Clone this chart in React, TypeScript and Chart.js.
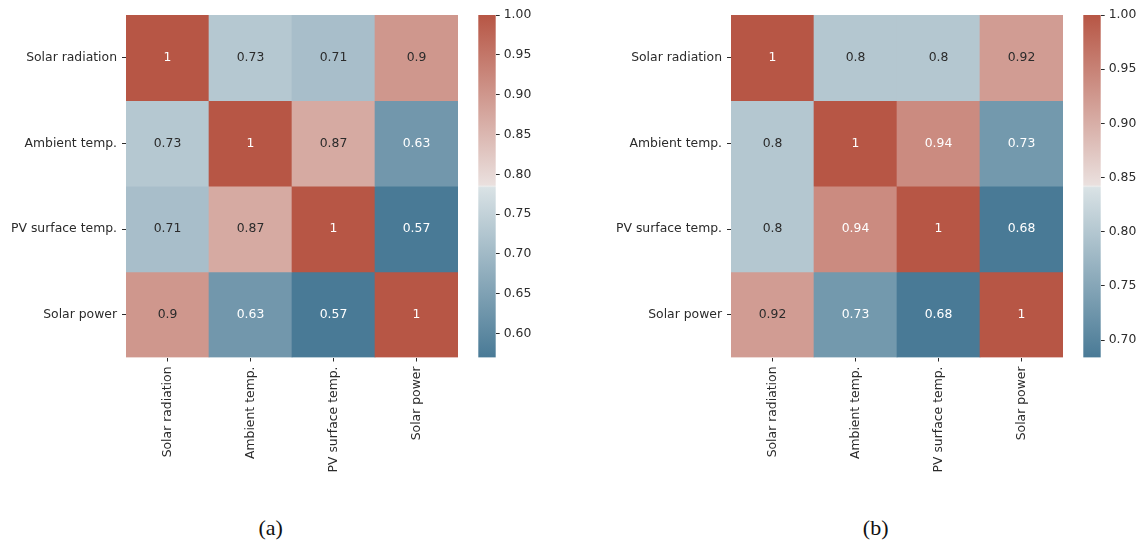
import React, { useEffect, useRef } from 'react';
import { Chart, registerables } from 'chart.js';

Chart.register(...registerables);

// Variables shared by both correlation matrices (rows and columns)
const variables = ['Solar radiation', 'Ambient temp.', 'PV surface temp.', 'Solar power'];

// Correlation matrix (a), one row per variable
const corrA = [
  [1, 0.73, 0.71, 0.9],
  [0.73, 1, 0.87, 0.63],
  [0.71, 0.87, 1, 0.57],
  [0.9, 0.63, 0.57, 1],
];

// Correlation matrix (b)
const corrB = [
  [1, 0.8, 0.8, 0.92],
  [0.8, 1, 0.94, 0.73],
  [0.8, 0.94, 1, 0.68],
  [0.92, 0.73, 0.68, 1],
];

// Colour scale limits and colour-bar ticks of each panel
const rangeA: [number, number] = [0.57, 1.0];
const rangeB: [number, number] = [0.684, 1.0];
const cbarTicksA = [0.6, 0.65, 0.7, 0.75, 0.8, 0.85, 0.9, 0.95, 1.0];
const cbarTicksB = [0.7, 0.75, 0.8, 0.85, 0.9, 0.95, 1.0];

const captions = ['(a)', '(b)'];

const FONT = "'DejaVu Sans', sans-serif";
const FONT_SIZE = 12.4;
const TEXT_COLOR = '#2b2b2b';

type RGB = [number, number, number];

// Diverging blue - light grey - red colour map
const cmapStops: [number, RGB][] = [
  [0, [73, 122, 150]],
  [0.496, [217, 226, 229]],
  [0.5, [236, 236, 236]],
  [0.504, [234, 224, 222]],
  [1, [183, 86, 69]],
];

function cmap(t: number): RGB {
  const u = Math.min(1, Math.max(0, t));
  for (let i = 1; i < cmapStops.length; i++) {
    const [t1, c1] = cmapStops[i];
    const [t0, c0] = cmapStops[i - 1];
    if (u <= t1) {
      const f = (u - t0) / (t1 - t0 || 1);
      return [0, 1, 2].map((k) => c0[k] + f * (c1[k] - c0[k])) as RGB;
    }
  }
  return cmapStops[cmapStops.length - 1][1];
}

const rgbStr = (c: RGB) => `rgb(${c.map((v) => Math.round(v)).join(',')})`;

function luminance(c: RGB) {
  const lin = c.map((v) => {
    const s = v / 255;
    return s <= 0.03928 ? s / 12.92 : Math.pow((s + 0.055) / 1.055, 2.4);
  });
  return 0.2126 * lin[0] + 0.7152 * lin[1] + 0.0722 * lin[2];
}

const fmt = (v: number) => String(Number(v.toPrecision(2)));

const HM_W = 470;
const HM_H = 505;
const CB_W = 80;
const CB_H = 400;

function Heatmap({ matrix, range, left }: { matrix: number[][]; range: [number, number]; left: number }) {
  const ref = useRef<HTMLCanvasElement>(null);
  useEffect(() => {
    if (!ref.current) return;
    const [vmin, vmax] = range;
    const norm = (v: number) => (v - vmin) / (vmax - vmin);

    // Writes each coefficient in the middle of its cell
    const cellLabels = {
      id: 'cellLabels',
      afterDatasetsDraw(chart: any) {
        const { ctx } = chart;
        const xs = chart.scales.x;
        const ys = chart.scales.y;
        ctx.save();
        ctx.font = `${FONT_SIZE}px ${FONT}`;
        ctx.textAlign = 'center';
        ctx.textBaseline = 'middle';
        matrix.forEach((row, r) =>
          row.forEach((v, c) => {
            const col = cmap(norm(v));
            ctx.fillStyle = luminance(col) > 0.35 ? TEXT_COLOR : '#ffffff';
            ctx.fillText(fmt(v), xs.getPixelForValue(c), ys.getPixelForValue(r));
          })
        );
        ctx.restore();
      },
    };

    const chart = new Chart(ref.current, {
      type: 'bar',
      data: {
        labels: variables,
        datasets: matrix.map((row, r) => ({
          label: variables[r],
          data: row.map(() => [r - 0.5, r + 0.5]),
          backgroundColor: row.map((v) => rgbStr(cmap(norm(v)))),
          borderWidth: 0,
          barPercentage: 1,
          categoryPercentage: 1,
          grouped: false,
        })),
      } as any,
      options: {
        responsive: false,
        animation: false,
        events: [],
        layout: { padding: { left: 0, right: 12, top: 15, bottom: 0 } },
        plugins: { legend: { display: false }, tooltip: { enabled: false } },
        scales: {
          x: {
            type: 'category',
            offset: true,
            afterFit: (s: any) => {
              s.height = HM_H - 357.5;
            },
            grid: { drawOnChartArea: false, offset: false, tickLength: 4, tickColor: TEXT_COLOR, tickWidth: 1 },
            border: { display: false },
            ticks: {
              autoSkip: false,
              minRotation: 90,
              maxRotation: 90,
              padding: 5,
              color: TEXT_COLOR,
              font: { family: FONT, size: FONT_SIZE },
            },
          },
          y: {
            type: 'linear',
            min: -0.5,
            max: 3.5,
            reverse: true,
            afterBuildTicks: (s: any) => {
              s.ticks = variables.map((_, i) => ({ value: i }));
            },
            afterFit: (s: any) => {
              s.width = 126;
            },
            grid: { drawOnChartArea: false, tickLength: 4, tickColor: TEXT_COLOR, tickWidth: 1 },
            border: { display: false },
            ticks: {
              autoSkip: false,
              padding: 5,
              color: TEXT_COLOR,
              font: { family: FONT, size: FONT_SIZE },
              callback: (v: any) => variables[Math.round(Number(v))],
            },
          },
        },
      } as any,
      plugins: [cellLabels],
    });
    return () => chart.destroy();
  }, [matrix, range]);
  return (
    <canvas
      ref={ref}
      width={HM_W}
      height={HM_H}
      style={{ position: 'absolute', left, top: 0, width: HM_W, height: HM_H }}
    />
  );
}

function ColorBar({ range, ticks, left }: { range: [number, number]; ticks: number[]; left: number }) {
  const ref = useRef<HTMLCanvasElement>(null);
  useEffect(() => {
    if (!ref.current) return;
    const [vmin, vmax] = range;
    const chart = new Chart(ref.current, {
      type: 'bar',
      data: {
        labels: [''],
        datasets: [
          {
            data: [[vmin, vmax]],
            borderWidth: 0,
            barPercentage: 1,
            categoryPercentage: 1,
            backgroundColor: (ctx: any) => {
              const ch = ctx.chart;
              const ys = ch.scales.y;
              if (!ch.chartArea || !ys) return rgbStr(cmap(0.5));
              const g = ch.ctx.createLinearGradient(0, ys.getPixelForValue(vmin), 0, ys.getPixelForValue(vmax));
              cmapStops.forEach(([t, c]) => g.addColorStop(t, rgbStr(c)));
              return g;
            },
          },
        ],
      } as any,
      options: {
        responsive: false,
        animation: false,
        events: [],
        layout: { padding: { left: 8.3, right: 0, top: 15, bottom: CB_H - 357.5 } },
        plugins: { legend: { display: false }, tooltip: { enabled: false } },
        scales: {
          x: { display: false, offset: true },
          y: {
            type: 'linear',
            position: 'right',
            min: vmin,
            max: vmax,
            afterBuildTicks: (s: any) => {
              s.ticks = ticks.map((v) => ({ value: v }));
            },
            afterFit: (s: any) => {
              s.width = CB_W - 8.3 - 17.4;
            },
            grid: { drawOnChartArea: false, tickLength: 4, tickColor: TEXT_COLOR, tickWidth: 1 },
            border: { display: false },
            ticks: {
              padding: 4,
              color: TEXT_COLOR,
              font: { family: FONT, size: FONT_SIZE },
              callback: (v: any) => Number(v).toFixed(2),
            },
          },
        },
      } as any,
    });
    return () => chart.destroy();
  }, [range, ticks]);
  return (
    <canvas
      ref={ref}
      width={CB_W}
      height={CB_H}
      style={{ position: 'absolute', left, top: 0, width: CB_W, height: CB_H }}
    />
  );
}

const panels = [
  { matrix: corrA, range: rangeA, ticks: cbarTicksA, offset: 0 },
  { matrix: corrB, range: rangeB, ticks: cbarTicksB, offset: 605 },
];

export default function App() {
  return (
    <div
      style={{
        position: 'absolute',
        left: 0,
        top: 0,
        width: 1142,
        height: 545,
        background: '#ffffff',
        overflow: 'hidden',
      }}
    >
      {panels.map((p, i) => (
        <React.Fragment key={i}>
          <Heatmap matrix={p.matrix} range={p.range} left={p.offset} />
          <ColorBar range={p.range} ticks={p.ticks} left={p.offset + HM_W} />
          <div
            style={{
              position: 'absolute',
              left: p.offset + 270.7,
              top: 517,
              transform: 'translateX(-50%)',
              fontFamily: "'Liberation Serif', 'Times New Roman', serif",
              fontSize: 22,
              lineHeight: '22px',
              color: '#111',
              whiteSpace: 'nowrap',
            }}
          >
            {captions[i]}
          </div>
        </React.Fragment>
      ))}
    </div>
  );
}
